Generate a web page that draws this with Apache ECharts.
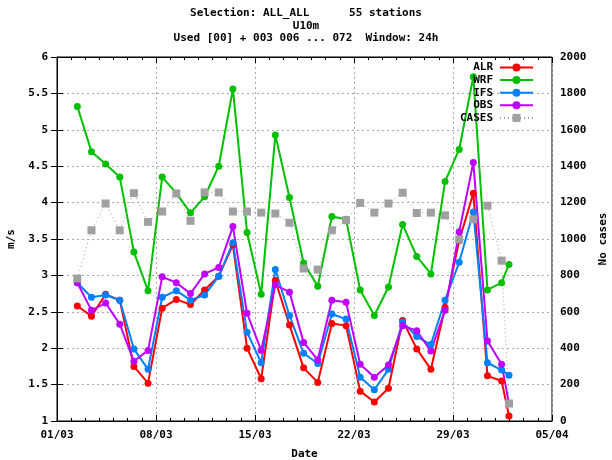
<!DOCTYPE html>
<html><head><meta charset="utf-8">
<script src="https://cdn.jsdelivr.net/npm/echarts@6/dist/echarts.min.js"></script>
<style>html,body{margin:0;padding:0;background:#fff}#c{width:612px;height:460px}</style>
</head><body><div id="c"></div>
<script>
// ---- data ----
const times = [
  '2024-03-02T10:30:00Z','2024-03-03T10:30:00Z','2024-03-04T10:30:00Z','2024-03-05T10:30:00Z',
  '2024-03-06T10:30:00Z','2024-03-07T10:30:00Z','2024-03-08T10:30:00Z','2024-03-09T10:30:00Z',
  '2024-03-10T10:30:00Z','2024-03-11T10:30:00Z','2024-03-12T10:30:00Z','2024-03-13T10:30:00Z',
  '2024-03-14T10:30:00Z','2024-03-15T10:30:00Z','2024-03-16T10:30:00Z','2024-03-17T10:30:00Z',
  '2024-03-18T10:30:00Z','2024-03-19T10:30:00Z','2024-03-20T10:30:00Z','2024-03-21T10:30:00Z',
  '2024-03-22T10:30:00Z','2024-03-23T10:30:00Z','2024-03-24T10:30:00Z','2024-03-25T10:30:00Z',
  '2024-03-26T10:30:00Z','2024-03-27T10:30:00Z','2024-03-28T10:30:00Z','2024-03-29T10:30:00Z',
  '2024-03-30T10:30:00Z','2024-03-31T10:30:00Z','2024-04-01T10:30:00Z','2024-04-01T23:00:00Z'
];
const ALR = [2.58,2.44,2.74,2.66,1.75,1.52,2.55,2.67,2.60,2.80,2.99,3.42,2.00,1.58,
             2.93,2.32,1.73,1.53,2.34,2.31,1.41,1.26,1.45,2.38,1.99,1.71,2.56,
             3.48,4.13,1.62,1.55,1.07];
const WRF = [5.32,4.70,4.53,4.35,3.32,2.79,4.35,4.13,3.86,4.08,4.50,5.56,3.59,2.74,
             4.93,4.07,3.17,2.85,3.81,3.77,2.80,2.45,2.84,3.70,3.26,3.02,4.29,
             4.73,5.73,2.80,2.90,3.15];
const IFS = [2.90,2.70,2.73,2.66,1.99,1.71,2.70,2.79,2.66,2.73,2.99,3.45,2.22,1.80,
             3.08,2.45,1.93,1.79,2.47,2.40,1.60,1.43,1.71,2.36,2.16,2.05,2.66,
             3.18,3.87,1.80,1.70,1.63];
const OBS = [2.90,2.52,2.62,2.33,1.82,1.97,2.98,2.90,2.75,3.02,3.11,3.67,2.48,1.97,
             2.87,2.77,2.08,1.84,2.66,2.63,1.78,1.60,1.77,2.31,2.24,1.96,2.52,
             3.60,4.55,2.10,1.78,1.24];
const CASES = [783,1048,1195,1048,1252,1094,1151,1250,1100,1256,1256,1151,1151,1145,
               1140,1089,838,832,1048,1103,1198,1145,1195,1254,1143,1145,1130,
               997,1108,1183,881,96];
const titleLines = ['Selection: ALL_ALL      55 stations', 'U10m', 'Used [00] + 003 006 ... 072  Window: 24h'];
const xStart = '2024-03-01T00:00:00Z';
const xEnd = '2024-04-05T00:00:00Z';

// ---- chart ----
const DAY = 86400000;
const T0 = Date.parse(xStart);
const toDay = s => (Date.parse(s) - T0) / DAY;
const xs = times.map(toDay);
const pair = arr => arr.map((v, i) => [xs[i], v]);
const FONT = 'DejaVu Sans Mono';
const txt = {fontFamily: FONT, fontWeight: 'bold', fontSize: 11, color: '#000'};
const dd = n => (n < 10 ? '0' : '') + n;
const fmtDate = v => { const d = new Date(T0 + v * DAY); return dd(d.getUTCDate()) + '/' + dd(d.getUTCMonth() + 1); };
const grid = {type: [2, 3], color: '#a8a8a8', width: 1};

function speedSeries(name, data, color) {
  return {
    name, type: 'line', yAxisIndex: 0, data: pair(data),
    symbol: 'circle', symbolSize: 7, showSymbol: true,
    lineStyle: {color, width: 2}, itemStyle: {color},
    emphasis: {disabled: true}, animation: false
  };
}

const chart = echarts.init(document.getElementById('c'), null, {renderer: 'canvas'});
chart.setOption({
  animation: false,
  backgroundColor: '#fff',
  title: {
    text: titleLines.join('\n'), left: 'center', top: 2,
    textStyle: Object.assign({}, txt, {lineHeight: 12.5})
  },
  grid: {left: 57, right: 60, top: 57, bottom: 39, containLabel: false, outerBoundsMode: 'none',
         show: true, borderColor: '#000', borderWidth: 1, backgroundColor: 'transparent'},
  legend: {
    orient: 'vertical', right: 73, top: 57, align: 'right',
    itemWidth: 33, itemHeight: 10, itemGap: 1.6,
    textStyle: Object.assign({}, txt, {padding: [0, 2, 0, 0]}),
    data: ['ALR', 'WRF', 'IFS', 'OBS', 'CASES']
  },
  xAxis: [{
    type: 'value', position: 'bottom', min: toDay(xStart), max: toDay(xEnd), interval: 7,
    name: 'Date', nameLocation: 'middle', nameGap: 28, nameTextStyle: txt,
    axisLine: {show: true, lineStyle: {color: '#000', width: 1}},
    axisTick: {show: true, inside: true, length: 6, lineStyle: {color: '#000'}},
    minorTick: {show: true, splitNumber: 7, length: 3, lineStyle: {color: '#000'}},
    axisLabel: Object.assign({}, txt, {margin: 9, formatter: fmtDate}),
    splitLine: {show: true, lineStyle: grid}
  }, {
    type: 'value', position: 'top', min: toDay(xStart), max: toDay(xEnd), interval: 7,
    axisLine: {show: true, lineStyle: {color: '#000', width: 1}},
    axisTick: {show: true, inside: true, length: 6, lineStyle: {color: '#000'}},
    minorTick: {show: true, splitNumber: 7, length: 3, lineStyle: {color: '#000'}},
    axisLabel: {show: false}, splitLine: {show: false}
  }],
  yAxis: [{
    type: 'value', position: 'left', min: 1, max: 6, interval: 0.5,
    name: 'm/s', nameLocation: 'middle', nameGap: 40, nameRotate: 90, nameTextStyle: txt,
    axisLine: {show: true, lineStyle: {color: '#000', width: 1}},
    axisTick: {show: true, inside: true, length: 6, lineStyle: {color: '#000'}},
    axisLabel: Object.assign({}, txt, {margin: 9, formatter: v => String(v)}),
    splitLine: {show: true, lineStyle: grid}
  }, {
    type: 'value', position: 'right', min: 0, max: 2000, interval: 200,
    name: 'No cases', nameLocation: 'middle', nameGap: 46, nameRotate: 90, nameTextStyle: txt,
    axisLine: {show: true, lineStyle: {color: '#000', width: 1}},
    axisTick: {show: true, inside: true, length: 6, lineStyle: {color: '#000'}},
    axisLabel: Object.assign({}, txt, {margin: 8, formatter: v => String(v)}),
    splitLine: {show: false}
  }],
  series: [
    speedSeries('ALR', ALR, '#ff0000'),
    speedSeries('WRF', WRF, '#00c000'),
    speedSeries('IFS', IFS, '#0080ff'),
    speedSeries('OBS', OBS, '#c000ff'),
    {
      name: 'CASES', type: 'line', yAxisIndex: 1, data: pair(CASES),
      symbol: 'rect', symbolSize: 8,
      lineStyle: {color: '#a0a0a0', width: 1, type: [1, 3]},
      itemStyle: {color: '#a0a0a0'},
      emphasis: {disabled: true}, animation: false
    }
  ]
});
</script>
</body></html>
